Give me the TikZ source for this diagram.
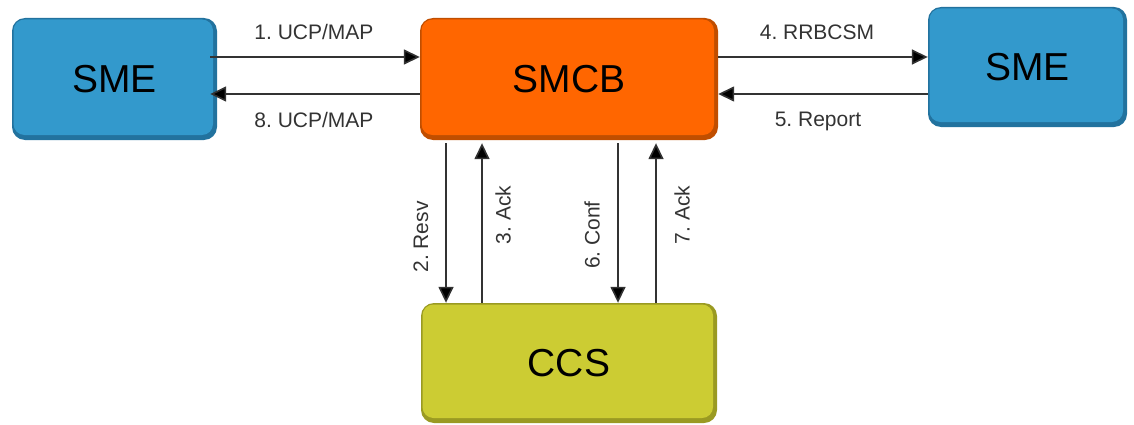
\documentclass[tikz,border=0pt]{standalone}
\usepackage{fontspec}
\setmainfont{Liberation Sans}
\usetikzlibrary{arrows.meta}
\frenchspacing
\definecolor{smeblue}{HTML}{3399CC}
\definecolor{smebluedk}{HTML}{22729E}
\definecolor{smcborange}{HTML}{FF6600}
\definecolor{smcborangedk}{HTML}{C04E00}
\definecolor{ccsyellow}{HTML}{CCCC33}
\definecolor{ccsyellowdk}{HTML}{9A9A22}
\definecolor{labelgrey}{HTML}{333333}
\tikzset{
  box/.style n args={2}{rounded corners=13pt, fill=#2, draw=none,
    font=\fontsize{39}{39}\selectfont, text=black, inner sep=0pt,
    path picture={\fill[#1, rounded corners=11pt]
      ([shift={(1.5pt,-1.5pt)}]path picture bounding box.north west) rectangle
      ([shift={(-4pt,5pt)}]path picture bounding box.south east);}},
  arr/.style={line width=1.6pt, draw=labelgrey, -{Triangle[length=16pt,width=15pt,fill=black]}},
  lbl/.style={font=\fontsize{21}{21}\selectfont, text=labelgrey, inner sep=0pt},
}
\begin{document}
\begin{tikzpicture}[x=1pt,y=1pt]
\useasboundingbox (0,0) rectangle (1134,424);
\node[box={smeblue}{smebluedk}, minimum width=205pt, minimum height=122pt] (sme1) at (114.5,345) {SME};
\node[box={smcborange}{smcborangedk}, minimum width=298pt, minimum height=122pt] (smcb) at (569,345) {SMCB};
\node[box={smeblue}{smebluedk}, minimum width=199pt, minimum height=120pt] (sme2) at (1027.5,357) {SME};
\node[box={ccsyellow}{ccsyellowdk}, minimum width=296pt, minimum height=120pt] (ccs) at (569,61) {CCS};

% horizontal connectors
\draw[arr] ([shift={(-7pt,22pt)}]sme1.east) -- ([yshift=22pt]smcb.west);
\draw[arr] ([yshift=-15pt]smcb.west) -- ([shift={(-7pt,-15pt)}]sme1.east);
\draw[arr] ([yshift=22pt]smcb.east) -- ([yshift=10pt]sme2.west);
\draw[arr] ([yshift=-27pt]sme2.west) -- ([yshift=-15pt]smcb.east);

% vertical connectors
\draw[arr] ([shift={(-123pt,-3pt)}]smcb.south) -- ([xshift=-123pt]ccs.north);
\draw[arr] ([xshift=-87pt]ccs.north) -- ([shift={(-87pt,-3pt)}]smcb.south);
\draw[arr] ([shift={(49pt,-3pt)}]smcb.south) -- ([xshift=49pt]ccs.north);
\draw[arr] ([xshift=87pt]ccs.north) -- ([shift={(87pt,-3pt)}]smcb.south);

% labels
\node[lbl] (l1) at (314,392) {1. UCP/MAP};
\node[lbl] (l8) at (314,304) {8. UCP/MAP};
\node[lbl] (l4) at (817,392) {4. RRBCSM};
\node[lbl] (l5) at (818,303) {5. Report};
\node[lbl, rotate=90] (l2) at (421,187) {2. Resv};
\node[lbl, rotate=90] (l3) at (503,209) {3. Ack};
\node[lbl, rotate=90] (l6) at (592,189) {6. Conf};
\node[lbl, rotate=90] (l7) at (682,209) {7. Ack};
\end{tikzpicture}
\end{document}
